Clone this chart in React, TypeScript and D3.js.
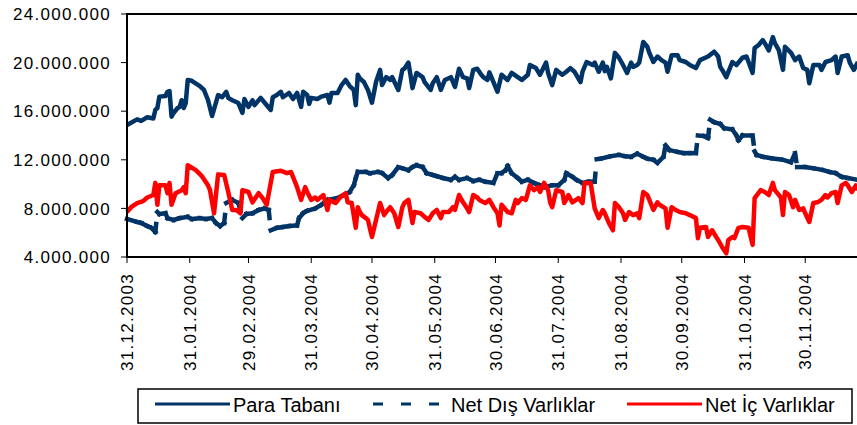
import * as d3 from "d3";

// Günlük veriler: [31.12.2003'ten itibaren gün, milyon TL]
const paraTabani: [number, number][] = [
  [0, 14.86], [5, 15.33], [7, 15.2], [10, 15.5], [13, 15.4], [14, 16.1], [15, 16.26], [16, 17.2], [19, 17.25], [20, 17.6],
  [21, 17.66], [22, 15.55], [23, 15.85], [25, 16.26], [26, 16.35], [27, 16.9], [28, 16.26], [29, 16.67], [30, 18.57], [32, 18.5],
  [36, 18.07], [38, 17.75], [40, 16.92], [42, 15.6], [45, 17.33], [47, 17.15], [49, 17.6], [50, 17.1], [52, 16.9], [55, 16.67],
  [57, 15.85], [58, 17.0], [60, 16.35], [62, 16.9], [63, 16.5], [66, 17.1], [68, 16.7], [71, 16.1], [72, 17.15], [74, 17.33],
  [76, 17.6], [77, 17.15], [80, 17.5], [82, 17.0], [84, 17.5], [86, 16.35], [87, 17.6], [89, 17.33], [90, 16.6], [91, 17.1],
  [94, 17.0], [96, 17.2], [99, 17.33], [100, 16.7], [101, 17.5], [104, 17.5], [106, 18.15], [108, 18.57], [110, 18.07], [112, 17.75],
  [113, 16.5], [114, 19.0], [115, 18.7], [117, 18.4], [119, 17.75], [121, 16.7], [123, 18.4], [125, 19.4], [126, 18.15], [128, 18.8],
  [130, 18.57], [131, 18.8], [134, 17.75], [136, 19.4], [137, 19.5], [139, 20.0], [140, 19.0], [141, 17.9], [143, 19.15], [146, 18.8],
  [147, 18.4], [150, 17.75], [151, 18.3], [153, 18.8], [155, 17.75], [157, 18.57], [160, 18.8], [162, 18.0], [164, 19.5], [166, 18.8],
  [168, 18.7], [169, 17.9], [171, 19.4], [173, 19.5], [175, 19.0], [176, 18.8], [178, 18.57], [179, 19.2], [181, 18.4], [183, 17.6],
  [185, 19.0], [188, 18.57], [190, 19.15], [193, 18.8], [195, 18.57], [198, 19.0], [199, 19.8], [202, 19.55], [204, 19.0], [207, 20.0],
  [208, 19.15], [210, 18.15], [212, 19.4], [215, 19.0], [217, 19.25], [219, 19.55], [221, 19.25], [224, 18.4], [225, 19.25], [227, 20.05],
  [230, 19.8], [231, 20.0], [233, 19.25], [235, 20.0], [236, 19.3], [237, 19.65], [239, 18.7], [241, 20.8], [243, 20.4], [245, 19.8],
  [247, 19.15], [249, 20.0], [250, 19.65], [252, 19.8], [253, 20.0], [255, 21.7], [257, 21.3], [258, 20.8], [260, 20.05], [262, 20.5],
  [264, 20.2], [266, 20.0], [267, 19.25], [269, 20.6], [272, 20.6], [273, 20.2], [276, 20.05], [278, 19.8], [281, 19.55], [283, 20.2],
  [287, 20.5], [290, 20.9], [292, 20.5], [293, 19.65], [294, 19.4], [296, 18.8], [299, 20.05], [301, 19.8], [304, 20.4], [306, 20.5],
  [309, 19.15], [310, 21.2], [312, 21.45], [314, 21.85], [315, 21.6], [317, 21.0], [319, 22.1], [320, 21.6], [322, 21.0], [324, 19.4],
  [325, 21.3], [328, 20.8], [330, 20.2], [332, 20.5], [334, 19.55], [336, 19.4], [337, 18.3], [339, 19.8], [342, 19.8], [343, 19.4],
  [345, 20.05], [348, 20.2], [350, 20.5], [351, 19.15], [353, 20.5], [356, 20.6], [357, 20.0], [359, 19.4], [361, 20.05],
];

const netDis: [number, number][] = [
  [0, 7.13], [5, 6.88], [7, 6.8], [10, 6.55], [12, 6.4], [14, 6.06], [15, 7.7], [16, 7.54], [19, 7.6], [20, 7.2],
  [23, 7.05], [26, 7.2], [30, 7.3], [32, 7.13], [36, 7.2], [39, 7.13], [42, 7.2], [44, 6.8], [46, 6.55], [48, 6.8],
  [49, 8.44], [52, 8.7], [55, 8.44], [57, 7.2], [59, 7.54], [62, 7.6], [65, 7.87], [68, 8.0], [70, 7.87], [71, 6.2],
  [74, 6.4], [77, 6.47], [80, 6.55], [84, 6.6], [85, 7.2], [87, 7.6], [89, 7.8], [93, 8.0], [96, 8.3], [99, 8.7],
  [104, 8.85], [107, 9.1], [110, 9.35], [112, 9.9], [113, 10.5], [114, 11.0], [118, 11.0], [120, 10.9], [124, 11.0], [126, 10.9],
  [129, 10.5], [131, 10.75], [134, 11.4], [136, 11.3], [139, 11.15], [141, 11.4], [143, 11.55], [146, 11.4], [148, 10.9], [151, 10.75],
  [153, 10.65], [156, 10.5], [160, 10.35], [162, 10.6], [164, 10.35], [168, 10.5], [171, 10.25], [174, 10.35], [177, 10.2], [181, 10.1],
  [183, 10.9], [185, 10.9], [187, 11.15], [188, 11.5], [190, 10.9], [193, 10.5], [195, 10.2], [198, 10.35], [201, 10.1], [204, 9.9],
  [206, 9.75], [210, 9.9], [213, 9.9], [216, 10.35], [217, 10.9], [220, 10.6], [222, 10.35], [225, 10.1], [228, 10.2], [231, 10.2],
  [232, 12.05], [234, 12.1], [239, 12.3], [243, 12.4], [246, 12.3], [249, 12.25], [252, 12.5], [255, 12.25], [257, 12.1], [260, 12.0],
  [262, 11.75], [265, 12.25], [266, 13.2], [268, 12.8], [272, 12.65], [275, 12.55], [278, 12.55], [281, 12.55], [282, 14.0], [285, 13.95],
  [287, 13.8], [288, 15.3], [290, 15.1], [293, 14.95], [295, 14.6], [299, 14.5], [301, 14.0], [302, 13.6], [304, 14.0], [309, 14.0],
  [310, 12.7], [311, 12.4], [314, 12.25], [319, 12.1], [324, 12.0], [328, 11.8], [330, 12.55], [331, 11.4], [335, 11.4], [339, 11.3],
  [344, 11.15], [347, 11.0], [350, 10.9], [353, 10.6], [356, 10.5], [361, 10.35],
];

const netIc: [number, number][] = [
  [0, 7.7], [2, 8.1], [5, 8.44], [8, 8.6], [10, 8.9], [13, 9.1], [14, 10.1], [15, 8.3], [16, 9.9], [19, 9.9],
  [20, 9.25], [21, 10.1], [22, 8.3], [24, 9.25], [27, 9.5], [28, 9.75], [29, 9.25], [30, 11.55], [34, 11.15], [37, 10.65],
  [40, 9.9], [41, 9.5], [43, 7.6], [45, 10.8], [48, 10.75], [50, 9.35], [52, 7.87], [54, 7.87], [56, 7.6], [57, 9.5],
  [60, 9.35], [62, 8.5], [65, 9.25], [67, 8.85], [69, 8.3], [71, 10.1], [72, 11.0], [76, 11.1], [79, 10.9], [81, 11.0],
  [82, 10.6], [84, 9.75], [86, 8.7], [88, 9.75], [89, 9.35], [91, 8.7], [93, 8.9], [94, 8.7], [97, 9.1], [99, 7.87],
  [100, 8.7], [103, 8.44], [105, 8.85], [108, 9.25], [109, 8.5], [111, 8.44], [113, 6.4], [114, 8.1], [115, 7.7], [116, 7.45],
  [118, 7.2], [119, 7.05], [121, 5.65], [123, 7.05], [125, 8.44], [127, 7.45], [128, 7.7], [130, 8.1], [132, 7.6], [134, 6.47],
  [136, 8.1], [137, 8.44], [139, 8.7], [141, 6.8], [142, 7.7], [145, 7.6], [147, 7.3], [149, 7.05], [151, 7.6], [153, 7.87],
  [155, 7.2], [156, 7.7], [159, 7.7], [161, 8.1], [162, 7.87], [164, 9.1], [166, 8.5], [168, 8.0], [169, 7.7], [171, 9.1],
  [173, 8.9], [174, 8.7], [177, 8.44], [179, 8.7], [181, 8.1], [183, 7.6], [184, 6.6], [185, 8.3], [188, 7.7], [190, 7.6],
  [192, 8.7], [193, 8.44], [195, 8.85], [197, 8.7], [199, 9.9], [201, 9.5], [203, 9.75], [204, 9.35], [206, 10.1], [208, 9.5],
  [209, 8.5], [210, 8.1], [212, 9.5], [215, 9.35], [216, 8.44], [218, 9.1], [220, 8.5], [223, 8.85], [225, 8.44], [226, 10.1],
  [229, 10.1], [231, 8.0], [233, 7.2], [235, 7.87], [236, 7.6], [238, 6.8], [240, 6.2], [241, 8.44], [243, 8.1], [245, 7.6],
  [246, 7.05], [248, 7.7], [250, 7.45], [252, 7.6], [253, 7.2], [255, 9.35], [257, 9.1], [258, 8.7], [260, 7.87], [262, 8.5],
  [263, 8.3], [266, 8.0], [267, 6.4], [269, 8.1], [271, 7.87], [273, 7.7], [276, 7.6], [278, 7.45], [281, 7.2], [282, 5.55],
  [283, 6.4], [286, 6.47], [287, 5.65], [289, 6.2], [291, 5.65], [292, 5.4], [294, 4.8], [296, 4.3], [297, 5.4], [299, 5.65],
  [300, 5.55], [302, 6.4], [304, 6.47], [307, 6.4], [309, 5.0], [310, 8.85], [313, 9.5], [315, 9.35], [317, 9.1], [319, 10.1],
  [320, 9.5], [323, 8.9], [324, 7.45], [325, 9.35], [327, 9.1], [329, 8.1], [330, 8.7], [332, 7.87], [334, 8.0], [335, 7.6],
  [337, 6.88], [339, 8.44], [341, 8.5], [343, 8.7], [345, 9.1], [346, 8.9], [348, 9.25], [350, 9.35], [351, 8.44], [353, 9.9],
  [355, 10.1], [356, 9.9], [358, 9.35], [360, 9.9], [361, 9.5],
];

const xTickLabels = [
  "31.12.2003", "31.01.2004", "29.02.2004", "31.03.2004", "30.04.2004", "31.05.2004",
  "30.06.2004", "31.07.2004", "31.08.2004", "30.09.2004", "31.10.2004", "30.11.2004",
];
const yTicks = [4, 8, 12, 16, 20, 24]; // milyon TL
const seriesNames = ["Para Tabanı", "Net Dış Varlıklar", "Net İç Varlıklar"];

const W = 857;
const H = 425;
const left = 127;
const top = 14;
const bottom = 257;
const right = 868; // plot area runs past the cropped edge
const navy = "#003366";
const red = "#ff0000";
const font = "'Liberation Sans', Arial, sans-serif";

const parse = d3.timeParse("%d.%m.%Y");
const fmtDate = d3.timeFormat("%d.%m.%Y");
const start = parse("31.12.2003") as Date;
const end = parse("31.12.2004") as Date;
const trFormat = d3.formatLocale({ decimal: ",", thousands: ".", grouping: [3], currency: ["", ""] }).format(",.0f");

export default function App() {
  const x = d3.scaleTime().domain([start, end]).range([left, right]);
  const y = d3.scaleLinear().domain([4, 24]).range([bottom, top]);
  const toDate = (d: number) => d3.timeDay.offset(start, d);

  const line = d3
    .line<[number, number]>()
    .x((d) => x(toDate(d[0])))
    .y((d) => y(d[1]));

  const xTicks = xTickLabels.map((s) => parse(s) as Date);

  // Excel restarts the dash pattern on every segment, so draw them one by one
  const dashSegs = d3.pairs(netDis);

  const legendX = [155, 373, 627];

  return (
    <svg
      width={W}
      height={H}
      style={{ position: "absolute", left: 0, top: 0, background: "#fff" }}
      fontFamily={font}
    >
      <rect x={0} y={0} width={W} height={H} fill="#fff" />

      {/* y axis ticks & labels */}
      {yTicks.map((t) => (
        <g key={t}>
          <line x1={left - 6} x2={left} y1={y(t)} y2={y(t)} stroke="#000" strokeWidth={1} />
          <text
            x={111}
            y={y(t)}
            dy="0.36em"
            textAnchor="end"
            fontSize={17}
            letterSpacing={1.3}
            fill="#000"
          >
            {trFormat(t * 1e6)}
          </text>
        </g>
      ))}

      {/* x axis ticks & labels */}
      {xTicks.map((t) => (
        <g key={t.getTime()}>
          <line x1={x(t)} x2={x(t)} y1={bottom} y2={bottom + 6} stroke="#000" strokeWidth={1} />
          <text
            transform={`translate(${x(t)},${bottom + 16}) rotate(-90)`}
            dy="0.36em"
            textAnchor="end"
            fontSize={17}
            letterSpacing={1.3}
            fill="#000"
          >
            {fmtDate(t)}
          </text>
        </g>
      ))}

      {/* series */}
      <path d={line(paraTabani) ?? ""} fill="none" stroke={navy} strokeWidth={4.5} strokeLinejoin="round" />
      <g stroke={navy} strokeWidth={4.5} strokeDasharray="8 20" strokeLinecap="square">
        {dashSegs.map(([a, b], i) => (
          <line key={i} x1={x(toDate(a[0]))} y1={y(a[1])} x2={x(toDate(b[0]))} y2={y(b[1])} />
        ))}
      </g>
      <path d={line(netIc) ?? ""} fill="none" stroke={red} strokeWidth={4.5} strokeLinejoin="round" />

      {/* plot frame */}
      <rect x={left} y={top} width={right - left} height={bottom - top} fill="none" stroke="#000" strokeWidth={2} />

      {/* legend */}
      <rect x={138} y={389} width={714} height={34} fill="#fff" stroke="#000" strokeWidth={1.5} />
      <line x1={legendX[0]} x2={legendX[0] + 75} y1={404} y2={404} stroke={navy} strokeWidth={3} />
      <line
        x1={legendX[1]}
        x2={legendX[1] + 75}
        y1={404}
        y2={404}
        stroke={navy}
        strokeWidth={3}
        strokeDasharray="10 18"
      />
      <line x1={legendX[2]} x2={legendX[2] + 75} y1={404} y2={404} stroke={red} strokeWidth={3} />
      {seriesNames.map((n, i) => (
        <text key={n} x={legendX[i] + 78} y={412} fontSize={20} fill="#000">
          {n}
        </text>
      ))}
    </svg>
  );
}
